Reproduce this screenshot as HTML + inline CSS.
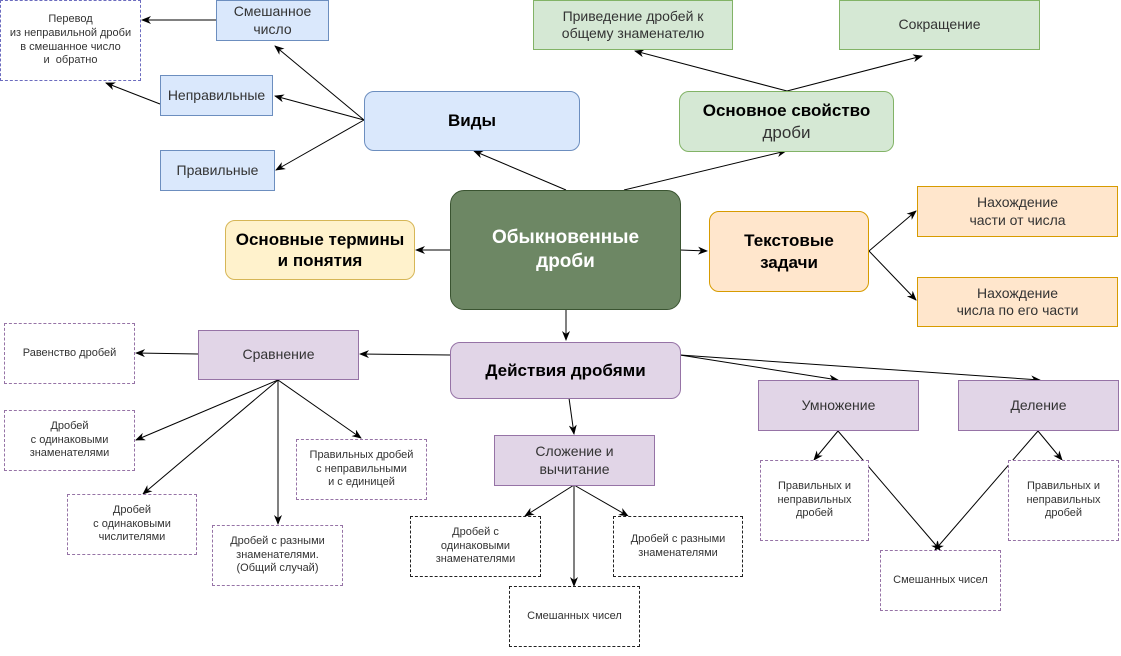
<!DOCTYPE html>
<html><head><meta charset="utf-8"><style>
body{margin:0;width:1121px;height:656px;background:#fff;position:relative;overflow:hidden;font-family:"Liberation Sans",sans-serif;}
.b{position:absolute;box-sizing:border-box;display:flex;align-items:center;justify-content:center;text-align:center;color:#333;line-height:1.25;}
.blue{background:#dae8fc;border:1px solid #6c8ebf;font-size:14px;}
.green{background:#d5e8d4;border:1px solid #82b366;font-size:14px;}
.orange{background:#ffe6cc;border:1px solid #d79b00;font-size:14px;}
.purple{background:#e1d5e7;border:1px solid #9673a6;font-size:14px;}
.dp{border:1px dashed #9673a6;font-size:11px;background:#fff;}
.dk{border:1px dashed #222;font-size:11px;background:#fff;}
.r{border-radius:10px;}
.bold{font-weight:bold;color:#000;font-size:17px;}
svg{position:absolute;left:0;top:0;}
</style></head><body>
<svg width="1121" height="656">
<defs><marker id="a" markerWidth="10" markerHeight="8" refX="9" refY="4" orient="auto" markerUnits="userSpaceOnUse"><path d="M0,0 L10,4 L0,8 L3,4z" fill="#000"/></marker></defs>
<g stroke="#000" stroke-width="1" fill="none" marker-end="url(#a)">
<line x1="216" y1="20" x2="142" y2="20"/>
<line x1="160" y1="104" x2="106" y2="83"/>
<line x1="364" y1="120" x2="275" y2="46"/>
<line x1="364" y1="120" x2="275" y2="96"/>
<line x1="364" y1="120" x2="276" y2="170"/>
<line x1="566" y1="190" x2="474" y2="151"/>
<line x1="624" y1="190" x2="786" y2="151"/>
<line x1="787" y1="91" x2="635" y2="51"/>
<line x1="787" y1="91" x2="922" y2="56"/>
<line x1="450" y1="250" x2="416" y2="250"/>
<line x1="680" y1="250" x2="707" y2="251"/>
<line x1="869" y1="251" x2="916" y2="211"/>
<line x1="869" y1="251" x2="916" y2="300"/>
<line x1="566" y1="310" x2="566" y2="340"/>
<line x1="450" y1="355" x2="360" y2="354"/>
<line x1="198" y1="354" x2="136" y2="353"/>
<line x1="278" y1="380" x2="136" y2="440"/>
<line x1="278" y1="380" x2="143" y2="494"/>
<line x1="278" y1="380" x2="278" y2="524"/>
<line x1="278" y1="380" x2="361" y2="438"/>
<line x1="569" y1="398" x2="574" y2="434"/>
<line x1="574" y1="485" x2="525" y2="516"/>
<line x1="574" y1="485" x2="574" y2="586"/>
<line x1="574" y1="485" x2="628" y2="516"/>
<line x1="680" y1="355" x2="838" y2="380"/>
<line x1="680" y1="355" x2="1040" y2="380"/>
<line x1="838" y1="431" x2="814" y2="460"/>
<line x1="838" y1="431" x2="940" y2="550"/>
<line x1="1038" y1="431" x2="1062" y2="460"/>
<line x1="1038" y1="431" x2="935" y2="550"/>
</g></svg>

<div class="b dp" style="left:0;top:0;width:141px;height:81px;border-color:#6c6cbf">Перевод<br>из неправильной дроби<br>в смешанное число<br>и&nbsp; обратно</div>
<div class="b blue" style="left:216px;top:0;width:113px;height:41px">Смешанное<br>число</div>
<div class="b blue" style="left:160px;top:75px;width:113px;height:41px">Неправильные</div>
<div class="b blue" style="left:160px;top:150px;width:115px;height:41px">Правильные</div>
<div class="b blue r bold" style="left:364px;top:91px;width:216px;height:60px">Виды</div>
<div class="b green" style="left:533px;top:0;width:200px;height:50px">Приведение дробей к<br>общему знаменателю</div>
<div class="b green" style="left:839px;top:0;width:201px;height:50px">Сокращение</div>
<div class="b green r" style="left:679px;top:91px;width:215px;height:61px;font-size:17px"><div><b style="color:#000">Основное свойство</b><br>дроби</div></div>
<div class="b r" style="left:450px;top:190px;width:231px;height:120px;background:#6d8764;border:1px solid #3a5431;color:#fff;font-weight:bold;font-size:19px;border-radius:14px">Обыкновенные<br>дроби</div>
<div class="b r bold" style="left:225px;top:220px;width:190px;height:60px;background:#fff2cc;border:1px solid #d6b656">Основные термины<br>и понятия</div>
<div class="b orange r bold" style="left:709px;top:211px;width:160px;height:81px">Текстовые<br>задачи</div>
<div class="b orange" style="left:917px;top:186px;width:201px;height:51px">Нахождение<br>части от числа</div>
<div class="b orange" style="left:917px;top:277px;width:201px;height:50px">Нахождение<br>числа по его части</div>
<div class="b purple r bold" style="left:450px;top:342px;width:231px;height:57px">Действия дробями</div>
<div class="b purple" style="left:198px;top:330px;width:161px;height:50px">Сравнение</div>
<div class="b dp" style="left:4px;top:323px;width:131px;height:61px">Равенство дробей</div>
<div class="b dp" style="left:4px;top:410px;width:131px;height:61px">Дробей<br>с одинаковыми<br>знаменателями</div>
<div class="b dp" style="left:67px;top:494px;width:130px;height:61px">Дробей<br>с одинаковыми<br>числителями</div>
<div class="b dp" style="left:296px;top:439px;width:131px;height:61px">Правильных дробей<br>с неправильными<br>и с единицей</div>
<div class="b dp" style="left:212px;top:525px;width:131px;height:61px">Дробей с разными<br>знаменателями.<br>(Общий случай)</div>
<div class="b purple" style="left:494px;top:435px;width:161px;height:51px">Сложение и<br>вычитание</div>
<div class="b dk" style="left:410px;top:516px;width:131px;height:61px">Дробей с<br>одинаковыми<br>знаменателями</div>
<div class="b dk" style="left:509px;top:586px;width:131px;height:61px">Смешанных чисел</div>
<div class="b dk" style="left:613px;top:516px;width:130px;height:61px">Дробей с разными<br>знаменателями</div>
<div class="b purple" style="left:758px;top:380px;width:161px;height:51px">Умножение</div>
<div class="b purple" style="left:958px;top:380px;width:161px;height:51px">Деление</div>
<div class="b dp" style="left:760px;top:460px;width:109px;height:81px">Правильных и<br>неправильных<br>дробей</div>
<div class="b dp" style="left:880px;top:550px;width:121px;height:61px">Смешанных чисел</div>
<div class="b dp" style="left:1008px;top:460px;width:111px;height:81px">Правильных и<br>неправильных<br>дробей</div>
</body></html>
